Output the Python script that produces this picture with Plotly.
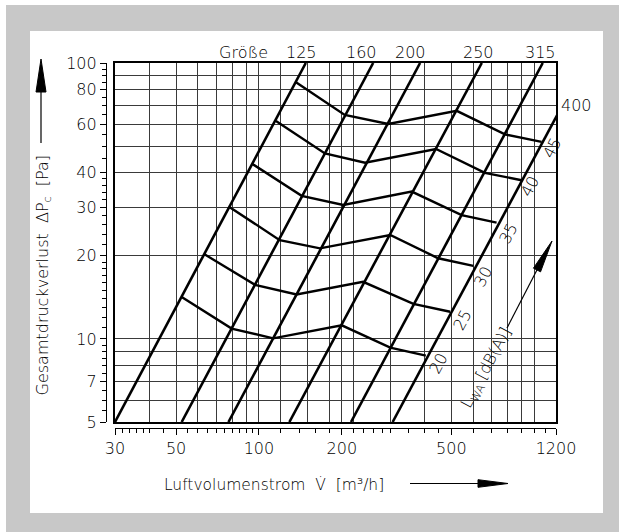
import numpy as np
import plotly.graph_objects as go

# ---------------- data ----------------
# Size lines (Größe): air volume flow at Δp = 5 Pa and at Δp = 100 Pa
sizes = ["125", "160", "200", "250", "315", "400"]
size_v_at_5 = [30, 52.4, 77.5, 129, 216, 306]
size_v_at_100 = [148, 260, 385, 645, 1074, 1530]
size_dp_ends = [5, 100]

# Sound power level curves L_WA [dB(A)] (vertices on the size lines 125 ... 400)
lwa_levels = ["20", "25", "30", "35", "40", "45"]
lwa20_v = [52.4, 79.6, 112.7, 200, 300, 404]
lwa20_dp = [14.2, 10.9, 10.05, 11.2, 9.3, 8.7]
lwa25_v = [63.2, 96.8, 137, 239, 364, 495]
lwa25_dp = [20.3, 15.7, 14.5, 16.1, 13.4, 12.55]
lwa30_v = [78.1, 119, 166.6, 300, 448, 601]
lwa30_dp = [30.1, 22.8, 21.3, 23.8, 19.6, 18.4]
lwa35_v = [94.9, 143, 202.5, 359, 545, 730]
lwa35_dp = [43.0, 33.0, 30.6, 34.2, 28.1, 26.4]
lwa40_v = [115.3, 173.7, 242.8, 440, 662, 900]
lwa40_dp = [61.6, 47.0, 43.5, 48.8, 40.0, 37.6]
lwa45_v = [136.3, 205, 295, 523, 783, 1064]
lwa45_dp = [85.1, 64.8, 60.1, 67.1, 55.1, 51.8]

# axes
x_range = [30, 1200]
y_range = [5, 100]
x_grid = [40, 50, 60, 70, 80, 90, 100, 120, 150, 180, 200, 220, 300, 400, 500,
          600, 700, 800, 900, 1000]
y_grid = [6, 7, 8, 9, 10, 20, 30, 40, 50, 60, 70, 80, 90]
x_tick_labels = [30, 50, 100, 200, 500, 1200]
x_minor_ticks = [32, 34, 36, 38, 40, 45, 55, 60, 65, 70, 75, 80, 85, 90, 95,
                 120, 140, 160, 180, 220, 240, 260, 280, 300, 350, 400, 450,
                 600, 700, 800, 900, 1000, 1100]
y_tick_labels = [5, 7, 10, 20, 30, 40, 60, 80, 100]
y_minor_ticks = [5.5, 6, 6.5, 7.5, 8, 8.5, 9, 9.5, 11, 12, 13, 14, 15, 16, 17,
                 18, 19, 22, 24, 26, 28, 32, 34, 36, 38, 45, 50, 55, 65, 70,
                 75, 85, 90, 95]

# ---------------- layout geometry (pixels) ----------------
W, H = 619, 532
ML, MR, MT, MB = 106, 63, 63, 104
PW, PH = W - ML - MR, H - MT - MB
GRID_X0, GRID_Y1 = 115, 422  # grid frame left / bottom


def P(px, py):
    return (px - ML) / PW, (MT + PH - py) / PH


FONT = "DejaVu Sans"
WEIGHT = 200
INK = "#000000"

fig = go.Figure()

for i, s in enumerate(sizes):
    fig.add_trace(go.Scatter(x=[size_v_at_5[i], size_v_at_100[i]], y=size_dp_ends,
                             mode="lines", line=dict(color="black", width=2.6),
                             name="Größe " + s, hoverinfo="skip", showlegend=False))

curves = [(lwa20_v, lwa20_dp), (lwa25_v, lwa25_dp), (lwa30_v, lwa30_dp),
          (lwa35_v, lwa35_dp), (lwa40_v, lwa40_dp), (lwa45_v, lwa45_dp)]
for lvl, (vv, dd) in zip(lwa_levels, curves):
    fig.add_trace(go.Scatter(x=vv, y=dd, mode="lines",
                             line=dict(color="black", width=2.4),
                             name=lvl + " dB(A)", hoverinfo="skip", showlegend=False))

# invisible trace for the offset tick axes
fig.add_trace(go.Scatter(x=[None], y=[None], xaxis="x2", yaxis="y2",
                         showlegend=False, hoverinfo="skip"))

xdom = [(GRID_X0 - ML) / PW, 1]
ydom = [(MT + PH - GRID_Y1) / PH, 1]
xr = [np.log10(x_range[0]) - 1e-9, np.log10(x_range[1]) + 1e-9]
yr = [np.log10(y_range[0]) - 1e-9, np.log10(y_range[1]) + 1e-9]

tickfont = dict(family=FONT, size=16, color=INK, weight=WEIGHT)

fig.update_layout(
    width=W, height=H,
    font=dict(family=FONT, size=16, color=INK, weight=WEIGHT),
    margin=dict(l=ML, r=MR, t=MT, b=MB, pad=0),
    paper_bgcolor="white", plot_bgcolor="white",
    showlegend=False,
    xaxis=dict(type="log", range=xr, domain=xdom, anchor="y",
               tickmode="array", tickvals=x_grid, showticklabels=False, ticks="",
               showgrid=True, gridcolor="#3a3a3a", gridwidth=1,
               showline=True, mirror=True, linecolor="black", linewidth=1.5,
               zeroline=False, fixedrange=True),
    yaxis=dict(type="log", range=yr, domain=ydom, anchor="x",
               tickmode="array", tickvals=y_grid, showticklabels=False, ticks="",
               showgrid=True, gridcolor="#3a3a3a", gridwidth=1,
               showline=True, mirror=True, linecolor="black", linewidth=1.5,
               zeroline=False, fixedrange=True),
    xaxis2=dict(type="log", range=xr, domain=xdom, overlaying="x", anchor="free",
                position=0, side="bottom",
                tickmode="array", tickvals=x_tick_labels,
                ticktext=[str(v) for v in x_tick_labels],
                ticks="outside", ticklen=6, tickwidth=1, tickcolor="black",
                minor=dict(tickmode="array", tickvals=x_minor_ticks, ticks="outside",
                           ticklen=4, tickwidth=1, tickcolor="black", showgrid=False),
                showgrid=False, showline=True, linecolor="black", linewidth=1.2,
                tickfont=tickfont, zeroline=False, fixedrange=True),
    yaxis2=dict(type="log", range=yr, domain=ydom, overlaying="y", anchor="free",
                position=0, side="left",
                tickmode="array", tickvals=y_tick_labels,
                ticktext=[str(v) for v in y_tick_labels],
                ticks="outside", ticklen=6, tickwidth=1, tickcolor="black",
                minor=dict(tickmode="array", tickvals=y_minor_ticks, ticks="outside",
                           ticklen=4, tickwidth=1, tickcolor="black", showgrid=False),
                showgrid=False, showline=True, linecolor="black", linewidth=1.2,
                tickfont=tickfont, zeroline=False, fixedrange=True),
)

shapes = []
# gray frame and white panel
gx0, gy0 = P(6, 5)
gx1, gy1 = P(W + 2, H + 2)
shapes.append(dict(type="rect", xref="paper", yref="paper", x0=gx0, y0=gy0, x1=gx1, y1=gy1,
                   fillcolor="#c8c8c8", line=dict(width=0), layer="below"))
wx0, wy0 = P(30, 31)
wx1, wy1 = P(603, 513)
shapes.append(dict(type="rect", xref="paper", yref="paper", x0=wx0, y0=wy0, x1=wx1, y1=wy1,
                   fillcolor="white", line=dict(width=0), layer="below"))


def line(p0, p1, w=1.2):
    a, b = P(*p0)
    c, d = P(*p1)
    return dict(type="line", xref="paper", yref="paper", x0=a, y0=b, x1=c, y1=d,
                line=dict(color="black", width=w))


def head(tip, base, half):
    tx, ty = tip
    bx, by = base
    dx, dy = tx - bx, ty - by
    n = (dx * dx + dy * dy) ** 0.5
    ux, uy = -dy / n, dx / n
    pts = [P(tx, ty), P(bx + ux * half, by + uy * half), P(bx - ux * half, by - uy * half)]
    path = "M {} {} L {} {} L {} {} Z".format(*[c for p in pts for c in p])
    return dict(type="path", xref="paper", yref="paper", path=path,
                fillcolor="black", line=dict(color="black", width=1))


# y-axis title arrow
shapes.append(line((41, 143), (41, 90)))
shapes.append(head((41, 59), (41, 92), 5))
# x-axis title arrow
shapes.append(line((410, 483.5), (480, 483.5)))
shapes.append(head((508, 483.5), (478, 483.5), 3.8))
# L_WA arrow
shapes.append(line((507, 328), (539, 266)))
shapes.append(head((552, 241), (537, 270), 4))

fig.update_layout(shapes=shapes)

ann = []


def text(px, py, s, size=16, angle=0, xanchor="center", yanchor="middle"):
    x, y = P(px, py)
    ann.append(dict(xref="paper", yref="paper", x=x, y=y, text=s, showarrow=False,
                    textangle=angle, xanchor=xanchor, yanchor=yanchor,
                    font=dict(family=FONT, size=size, color=INK, weight=WEIGHT)))


# size labels
text(243, 52, "Größe")
for s, (px, py) in zip(sizes, [(301.7, 52), (361.7, 52), (410, 52), (478.3, 52),
                               (540, 52), (576.7, 105)]):
    text(px, py, s)

# L_WA level labels along the 400 line
for s, (px, py) in zip(lwa_levels, [(438.3, 363.3), (461.7, 320), (483.3, 276.7),
                                    (508.3, 233.3), (530, 186.7), (551.7, 148.3)]):
    text(px, py, s, angle=-62)

text(486, 368, "L<sub>WA</sub> [dB(A)]", angle=-62)

# axis titles
text(161.7, 485, "Luftvolumenstrom  V\u0307  [m\u00b3/h]", size=15.5, xanchor="left")
text(43, 153, "Gesamtdruckverlust  \u0394P<sub>c</sub>  [Pa]", size=16, angle=-90,
     yanchor="top")

fig.update_layout(annotations=ann)

post = (
    "document.body.style.margin='0px';document.body.style.padding='0px';"
    "document.querySelectorAll('.xtick text, .ytick text, .x2tick text, .y2tick text')"
    ".forEach(function(t){t.style.fontWeight='200';});"
)
fig.write_html("out.html", config={"displayModeBar": False}, post_script=post)
